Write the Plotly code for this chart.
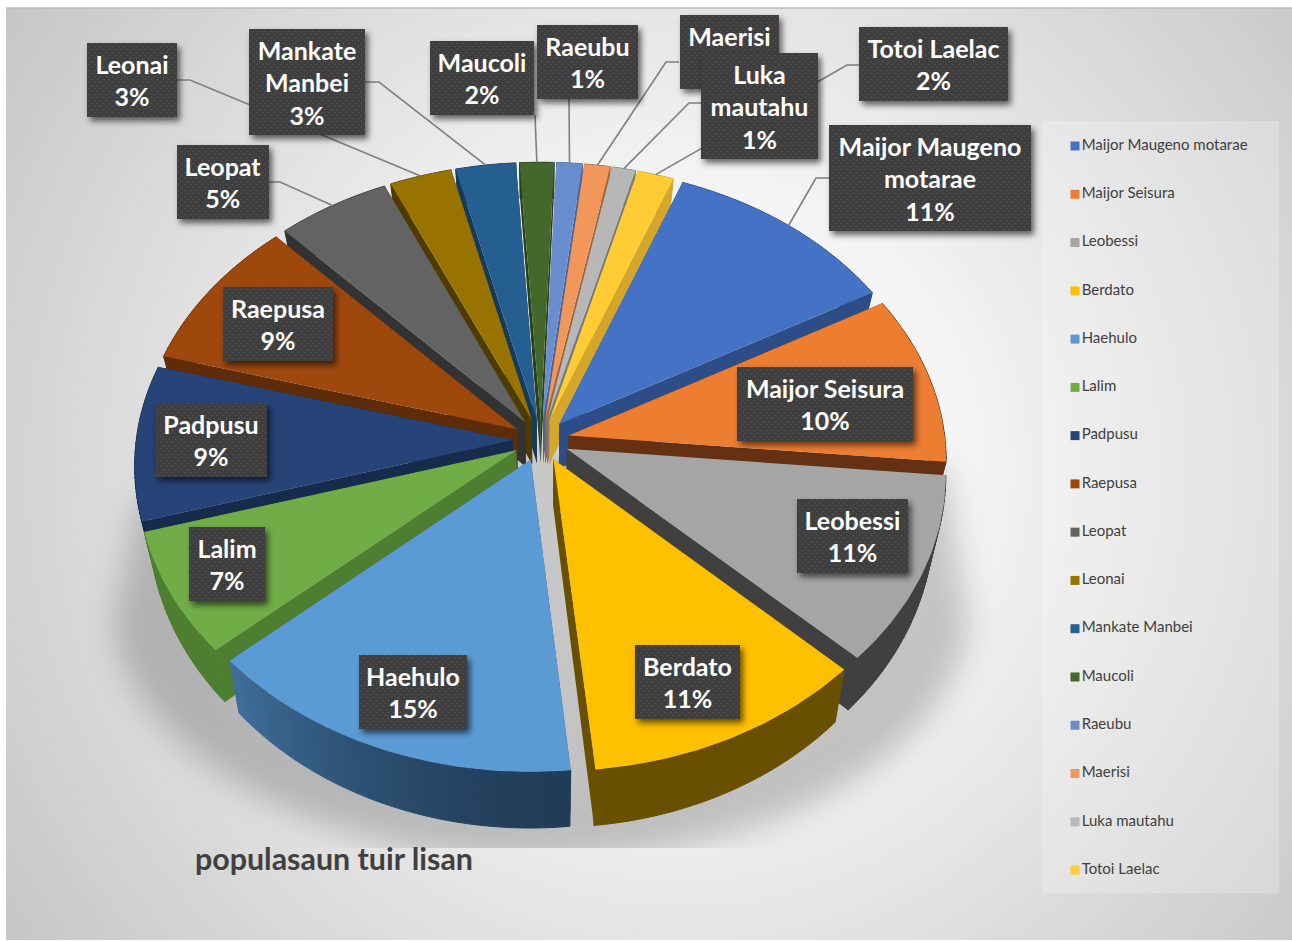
import base64
import numpy as np
import plotly.graph_objects as go

# ---------- data ----------
categories = ["Maijor Maugeno motarae", "Maijor Seisura", "Leobessi", "Berdato", "Haehulo",
              "Lalim", "Padpusu", "Raepusa", "Leopat", "Leonai", "Mankate Manbei", "Maucoli",
              "Raeubu", "Maerisi", "Luka mautahu", "Totoi Laelac"]
values = [11.0, 9.6, 10.7, 11.2, 15.0, 7.0, 8.8, 8.7, 5.3, 2.9, 2.8, 1.6, 1.2, 1.2, 1.1, 1.7]
label_names = ["Maijor Maugeno<br>motarae", "Maijor Seisura", "Leobessi", "Berdato", "Haehulo",
               "Lalim", "Padpusu", "Raepusa", "Leopat", "Leonai", "Mankate<br>Manbei", "Maucoli",
               "Raeubu", "Maerisi", "Luka<br>mautahu", "Totoi Laelac"]
colors = ["#4472c4", "#ed7d31", "#a5a5a5", "#ffc000", "#5b9bd5", "#70ad47", "#264478", "#9e480e",
          "#636363", "#997300", "#255e91", "#43682b", "#698ed0", "#f1975a", "#b7b7b7", "#ffcd33"]
wall_colors = ["#2d4d88", "#663012", "#404040", "#695000", "#2f5a82", "#4e7f31", "#172b4d", "#5f2c09",
               "#333333", "#4f3b00", "#163a5a", "#29401a", "#46659f", "#a0633a", "#7a7a7a", "#d4a72c"]
title_text = "populasaun tuir lisan"
# the Maerisi percentage sits behind the Luka mautahu box in the picture, so it is not drawn
covered_percent = ["Maerisi"]

# ---------- layout constants (pixels on the hidden axes) ----------
W, H = 1292, 941
CX, CY, A, B, K = 541, 440, 376.5, 282, 0.085   # disc projection
EXPLODE = 0.075
START_DEG = 21
# label boxes: left, top, right, bottom
boxes = [(829, 125, 1031, 231), (737, 367, 913, 441), (797, 499, 908, 573), (635, 645, 740, 719),
         (359, 655, 467, 729), (189, 527, 265, 601), (155, 403, 267, 477), (223, 287, 333, 361),
         (177, 145, 269, 219), (87, 43, 177, 117), (249, 29, 365, 135), (430, 41, 534, 115),
         (537, 25, 638, 99), (680, 15, 779, 89), (701, 53, 818, 159), (859, 27, 1008, 101)]
# leader line start points: box edge, elbow (None = no leader)
leaders = [[(829, 178), (816, 178)], None, None, None, None, None, None, None,
           [(269, 182), (280, 182)], [(177, 80), (190, 80)], [(365, 82), (379, 82)],
           [(535, 115)], [(569, 99)], [(679, 62), (666, 62)], [(701, 103), (689, 103)],
           [(859, 65), (847, 65)]]
LEG_X, LEG_Y0, LEG_DY = 1075, 146, 48.27


def project(u, v):
    w = 1 + K * v
    return CX + A * u / w, CY - B * v / w


def lower(x, y):
    return x - (x - CX) * 0.03, y + 36 + (y - 162) * 0.033


def mix(c1, c2, t):
    a = [int(c1[i:i + 2], 16) for i in (1, 3, 5)]
    b = [int(c2[i:i + 2], 16) for i in (1, 3, 5)]
    return "#%02x%02x%02x" % tuple(round(p + (q - p) * t) for p, q in zip(a, b))


def poly(xs, ys, color, line=False):
    return go.Scatter(x=xs, y=ys, mode="lines", fill="toself", fillcolor=color,
                      line=dict(color=color, width=1 if line else 0), hoverinfo="skip",
                      showlegend=False)


total = sum(values)
shares = [v / total for v in values]
edges = np.radians(START_DEG + 360 * np.concatenate([[0], np.cumsum(shares)]))

slices = []
for i, s in enumerate(shares):
    t0, t1 = edges[i], edges[i + 1]
    mid = (t0 + t1) / 2
    ax, ay = EXPLODE * np.sin(mid), EXPLODE * np.cos(mid)
    th = np.linspace(t0, t1, max(4, int(np.degrees(t1 - t0)) + 2))
    ox, oy = project(ax + np.sin(th), ay + np.cos(th))
    px, py = project(ax, ay)
    slices.append(dict(i=i, mid=mid, px=px, py=py, ox=ox, oy=oy,
                       end=project(ax + np.sin(mid), ay + np.cos(mid)), depth=np.cos(mid)))

fig = go.Figure()
for sl in sorted(slices, key=lambda d: -d["depth"]):
    i = sl["i"]
    ox, oy, px, py = sl["ox"], sl["oy"], sl["px"], sl["py"]
    lx, ly = lower(ox, oy)
    plx, ply = lower(px, py)
    # cut faces
    for k in (0, -1):
        fig.add_trace(poly([px, ox[k], lx[k], plx, px], [py, oy[k], ly[k], ply, py], wall_colors[i]))
    # rim
    n = len(ox)
    for j in range(n - 1):
        c = wall_colors[i]
        if categories[i] == "Haehulo":
            c = mix("#203c57", "#3f6e9a", (j / (n - 2)) ** 1.5)
        fig.add_trace(poly([ox[j], ox[j + 1], lx[j + 1], lx[j], ox[j]],
                           [oy[j], oy[j + 1], ly[j + 1], ly[j], oy[j]], c, True))
    # top face
    fig.add_trace(poly(np.r_[px, ox, px], np.r_[py, oy, py], colors[i]))

# leader lines
for sl in slices:
    i = sl["i"]
    if leaders[i]:
        pts = leaders[i] + [sl["end"]]
        fig.add_trace(go.Scatter(x=[p[0] for p in pts], y=[p[1] for p in pts], mode="lines",
                                 line=dict(color="#7f7f7f", width=1.6), hoverinfo="skip",
                                 showlegend=False))

# legend as named markers
for i, name in enumerate(categories):
    fig.add_trace(go.Scatter(x=[LEG_X], y=[LEG_Y0 + i * LEG_DY], mode="markers+text", name=name,
                             text=[name], textposition="middle right",
                             textfont=dict(family="Lato", size=15, color="#404040"),
                             marker=dict(symbol="square", size=9, color=colors[i]),
                             hoverinfo="skip", showlegend=False))

# data labels
annotations = []
for i, name in enumerate(label_names):
    l, t, r, b = boxes[i]
    pct = " " if categories[i] in covered_percent else f"{round(shares[i] * 100):d}%"
    annotations.append(dict(
        x=(l + r) / 2, y=(t + b) / 2, xref="x", yref="y", showarrow=False,
        width=r - l, height=b - t, align="center", valign="middle",
        bgcolor="rgba(0,0,0,0)", borderpad=0, text=f"{name}<br>{pct}",
        font=dict(family="Lato", size=25, color="white", weight=700)))
annotations.append(dict(x=193, y=858, xref="x", yref="y", xanchor="left", yanchor="middle",
                        showarrow=False, text=title_text,
                        font=dict(family="Lato", size=30.4, color="#404040", weight=700)))

# background and floor shadow
bg_svg = f'''<svg xmlns="http://www.w3.org/2000/svg" width="{W}" height="{H}" viewBox="0 0 {W} {H}">
<defs>
<radialGradient id="g" gradientUnits="userSpaceOnUse" cx="680" cy="470" r="820">
<stop offset="0" stop-color="#ffffff"/><stop offset="0.35" stop-color="#f4f4f4"/><stop offset="1" stop-color="#c6c6c6"/>
</radialGradient>
<filter id="b" x="-20%" y="-20%" width="140%" height="140%"><feGaussianBlur stdDeviation="16"/></filter>
<clipPath id="c"><rect x="0" y="0" width="{W}" height="848"/></clipPath>
</defs>
<rect width="{W}" height="{H}" fill="#ffffff"/>
<rect x="6" y="8" width="1286" height="932" fill="url(#g)"/>
<line x1="6" y1="8" x2="1292" y2="8" stroke="#bdbdbd" stroke-width="1.5"/>
<g clip-path="url(#c)"><g filter="url(#b)" fill="#000000" fill-opacity="0.2">
<path d="M138 500 L540 430 L945 470 L968 625 C 950 760 760 860 545 860 C 330 860 130 760 114 625 Z"/>
</g></g>
<rect x="1042" y="121" width="237" height="772" fill="#ffffff" fill-opacity="0.22"/>
</svg>'''

# label boxes with a fine dot pattern and a soft shadow
rects = "".join(f'<rect x="{l}" y="{t}" width="{r - l}" height="{b - t}" fill="#000" fill-opacity="0.6" filter="url(#s)" transform="translate(3 4)"/>'
                f'<rect x="{l}" y="{t}" width="{r - l}" height="{b - t}" fill="url(#d)"/>'
                for l, t, r, b in boxes)
box_svg = f'''<svg xmlns="http://www.w3.org/2000/svg" width="{W}" height="{H}" viewBox="0 0 {W} {H}">
<defs>
<pattern id="d" width="6" height="6" patternUnits="userSpaceOnUse">
<rect width="6" height="6" fill="#3e3e3e"/><circle cx="1.5" cy="1.5" r="0.8" fill="#545454"/><circle cx="4.5" cy="4.5" r="0.8" fill="#545454"/>
</pattern>
<filter id="s" x="-30%" y="-30%" width="160%" height="160%"><feGaussianBlur stdDeviation="3"/></filter>
</defs>{rects}</svg>'''


def uri(svg):
    return "data:image/svg+xml;base64," + base64.b64encode(svg.encode()).decode()


images = [dict(source=uri(bg_svg), xref="paper", yref="paper", x=0, y=1, sizex=1, sizey=1,
               sizing="stretch", xanchor="left", yanchor="top", layer="below"),
          dict(source=uri(box_svg), xref="paper", yref="paper", x=0, y=1, sizex=1, sizey=1,
               sizing="stretch", xanchor="left", yanchor="top", layer="above")]

fig.update_layout(
    width=W, height=H, margin=dict(l=0, r=0, t=0, b=0), showlegend=False,
    paper_bgcolor="white", plot_bgcolor="rgba(0,0,0,0)", images=images, annotations=annotations,
    xaxis=dict(range=[0, W], visible=False, fixedrange=True),
    yaxis=dict(range=[H, 0], visible=False, fixedrange=True),
)
fig.write_html("out.html", config=dict(displayModeBar=False),
               post_script="document.body.style.margin='0';")
